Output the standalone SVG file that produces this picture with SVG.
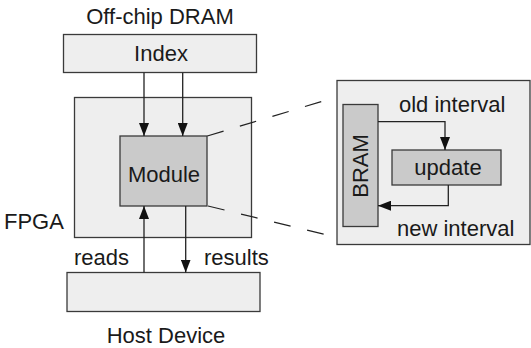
<svg xmlns="http://www.w3.org/2000/svg" width="531" height="348" viewBox="0 0 531 348">
<defs>
<style>
.box{fill:#eeeeee;stroke:#3a3a3a;stroke-width:1.3}
.dark{fill:#cacaca;stroke:#3a3a3a;stroke-width:1.3}
.t{font-family:"Liberation Sans",Arial,sans-serif;font-size:22px;fill:#1a1a1a}
.c{text-anchor:middle}
.ln{fill:none;stroke:#222;stroke-width:1.3}
.dash{fill:none;stroke:#222;stroke-width:1.2;stroke-dasharray:17 17}
</style>
<marker id="ah" markerUnits="userSpaceOnUse" markerWidth="13" markerHeight="10" refX="13" refY="5" orient="auto">
<path d="M0,0 L13,5 L0,10 z" fill="#111"/>
</marker>
</defs>
<rect width="531" height="348" fill="#ffffff"/>
<g id="dram">
<text class="t c" x="160" y="24">Off-chip DRAM</text>
<rect class="box" x="63.5" y="34.5" width="193" height="38"/>
<text class="t c" x="161" y="61">Index</text>
</g>
<g id="fpga">
<rect class="box" x="74.5" y="97.5" width="177" height="140"/>
<text class="t" x="4" y="229">FPGA</text>
</g>
<g id="module">
<rect class="dark" x="120" y="136" width="87" height="70"/>
<text class="t c" x="164" y="181.5">Module</text>
</g>
<g id="host">
<rect class="box" x="67" y="272.5" width="193" height="39"/>
<text class="t c" x="166" y="343">Host Device</text>
</g>
<g id="detail">
<rect class="box" x="337" y="80.5" width="193" height="164"/>
<rect class="dark" x="343" y="104.5" width="35" height="122"/>
<text class="t c" transform="translate(368,166) rotate(-90)" x="0" y="0">BRAM</text>
<rect class="dark" x="392" y="150" width="109" height="35"/>
<text class="t c" x="448" y="175">update</text>
<text class="t" x="399" y="111.5">old interval</text>
<text class="t" x="397" y="235.5">new interval</text>
</g>
<g id="connectors">
<line class="ln" x1="144" y1="72.7" x2="144" y2="136" marker-end="url(#ah)"/>
<line class="ln" x1="182.7" y1="72.7" x2="182.7" y2="136" marker-end="url(#ah)"/>
<line class="ln" x1="144" y1="272.5" x2="144" y2="206" marker-end="url(#ah)"/>
<line class="ln" x1="185.7" y1="206" x2="185.7" y2="272.5" marker-end="url(#ah)"/>
<path class="ln" d="M378,121.7 H445 V150" marker-end="url(#ah)"/>
<path class="ln" d="M448.3,185 V205.7 H378" marker-end="url(#ah)"/>
<line class="dash" x1="207.3" y1="136" x2="325" y2="100.5"/>
<line class="dash" x1="208" y1="206" x2="330" y2="235.7"/>
<text class="t" x="74" y="265">reads</text>
<text class="t" x="204" y="265">results</text>
</g>
</svg>
